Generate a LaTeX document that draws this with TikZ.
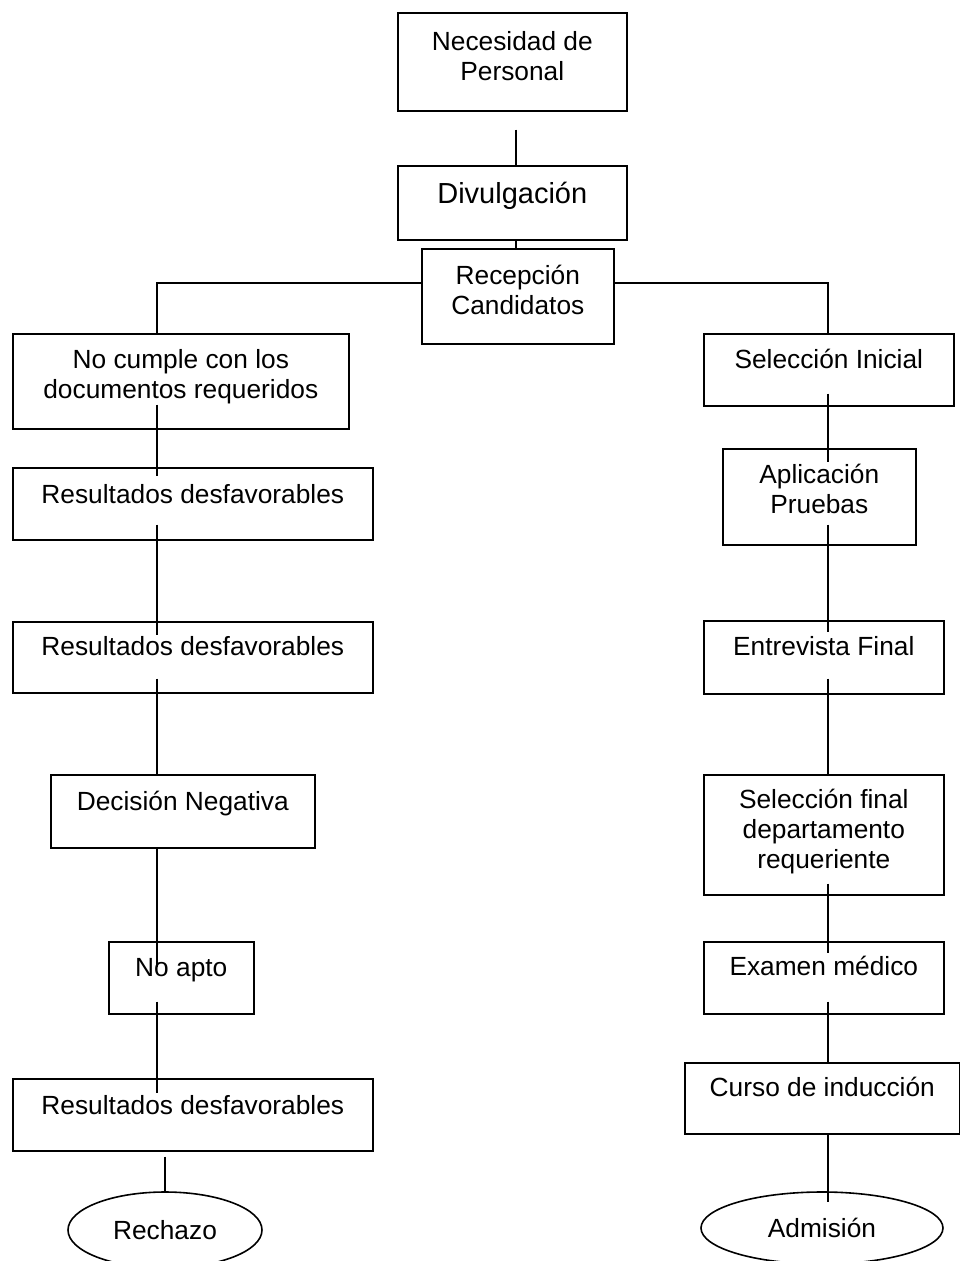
\documentclass[tikz,border=0pt]{standalone}
\usepackage{fontspec}
\setmainfont{Liberation Sans}
\usetikzlibrary{shapes.geometric,calc}

\newcommand{\caja}[4]{\parbox[t][#2pt][t]{#1pt}{\centering\rule{0pt}{#3pt}#4}}

\tikzset{
  cajon/.style={draw, line width=1.6pt, inner sep=0pt, anchor=north west},
  elipse/.style={draw, ellipse, line width=1.6pt, inner sep=0pt},
  linea/.style={line width=1.8pt},
}

\begin{document}
\begin{tikzpicture}[x=1pt, y=-1pt, font=\fontsize{26.3}{30}\selectfont]

            \useasboundingbox (0,0) rectangle (960,1261);

            \coordinate (cx) at (516,0);
            \coordinate (lx) at (157,0);
            \coordinate (rx) at (828,0);

            % centro
            \node[cajon] (nec) at (397,12) {\caja{229}{98}{38}{Necesidad de\\Personal}};
            \node[cajon, font=\fontsize{29}{33}\selectfont] (div) at (397,165) {\caja{229}{74}{38}{Divulgación}};
            \node[cajon] (rec) at (421,248) {\caja{192}{95}{36}{Recepción\\Candidatos}};

            % rama izquierda
            \node[cajon] (nocumple) at (12,333) {\caja{336}{95}{35}{No cumple con los\\documentos requeridos}};
            \node[cajon] (res1) at (12,467) {\caja{360}{72}{36}{Resultados desfavorables}};
            \node[cajon] (res2) at (12,621) {\caja{360}{71}{34}{Resultados desfavorables}};
            \node[cajon] (dec) at (50,774) {\caja{264}{73}{36}{Decisión Negativa}};
            \node[cajon] (noapto) at (108,941) {\caja{145}{72}{35}{No apto}};
            \node[cajon] (res3) at (12,1078) {\caja{360}{72}{36}{Resultados desfavorables}};
            \node[elipse, minimum width=194pt, minimum height=76pt] (rechazo) at (165,1230) {Rechazo};

            % rama derecha
            \node[cajon] (selini) at (703,333) {\caja{250}{72}{35}{Selección Inicial}};
            \node[cajon] (apl) at (722,448) {\caja{193}{96}{35}{Aplicación\\Pruebas}};
            \node[cajon] (entrev) at (703,620) {\caja{240}{73}{35}{Entrevista Final}};
            \node[cajon] (selfin) at (703,774) {\caja{240}{120}{34}{Selección final\\departamento\\requeriente}};
            \node[cajon] (examen) at (703,941) {\caja{240}{72}{34}{Examen médico}};
            \node[cajon] (curso) at (684,1062) {\caja{275}{71}{34}{Curso de inducción}};
            \node[elipse, minimum width=242pt, minimum height=72pt] (admision) at (822,1228) {Admisión};

            \draw[linea] ($(nec.south -| cx)+(0,18)$) -- (div.north -| cx);
            \draw[linea] (div.south -| cx) -- (rec.north -| cx);
            \draw[linea] ($(rec.north west)+(0,35)$) -| (nocumple.north -| lx);
            \draw[linea] ($(rec.north east)+(0,35)$) -| (selini.north -| rx);

            \draw[linea] ($(nocumple.south -| lx)+(0,-25)$) -- ($(res1.north -| lx)+(0,9)$);
            \draw[linea] ($(res1.south -| lx)+(0,-16)$) -- ($(res2.north -| lx)+(0,14)$);
            \draw[linea] ($(res2.south -| lx)+(0,-15)$) -- (dec.north -| lx);
            \draw[linea] (dec.south -| lx) -- ($(noapto.north -| lx)+(0,26)$);
            \draw[linea] ($(noapto.south -| lx)+(0,-13)$) -- ($(res3.north -| lx)+(0,15)$);
            \draw[linea] ($(res3.south -| rechazo)+(0,5)$) -- (rechazo.north);

            \draw[linea] ($(selini.south -| rx)+(0,-13)$) -- ($(apl.north -| rx)+(0,14)$);
            \draw[linea] ($(apl.south -| rx)+(0,-21)$) -- ($(entrev.north -| rx)+(0,12)$);
            \draw[linea] ($(entrev.south -| rx)+(0,-16)$) -- (selfin.north -| rx);
            \draw[linea] ($(selfin.south -| rx)+(0,-12)$) -- ($(examen.north -| rx)+(0,12)$);
            \draw[linea] ($(examen.south -| rx)+(0,-13)$) -- (curso.north -| rx);
            \draw[linea] (curso.south -| rx) -- ($(admision.north -| rx)+(0,11)$);

        \end{tikzpicture}
\end{document}
